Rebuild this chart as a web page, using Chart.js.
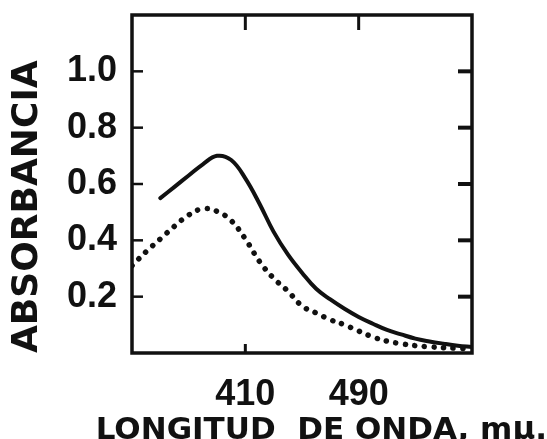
<!DOCTYPE html>
<html>
<head>
<meta charset="utf-8">
<script src="https://cdn.jsdelivr.net/npm/chart.js@4"></script>
<style>
    body { margin: 0; background: #fff; }
    #box { width: 547px; height: 439px; }
</style>
</head>
<body>
<div id="box"><canvas id="absChart" width="547" height="439"></canvas></div>
<script>
// wavelengths (m\u03bc) and absorbance
const solidWl = [350, 360, 370, 380, 390, 400, 410, 420, 430, 440, 450, 460, 470, 480, 490, 500, 510, 520, 530, 540, 550, 560, 570];
const solidAbs = [0.55, 0.59, 0.63, 0.67, 0.70, 0.685, 0.62, 0.53, 0.43, 0.35, 0.285, 0.228, 0.19, 0.157, 0.128, 0.104, 0.082, 0.066, 0.051, 0.041, 0.033, 0.026, 0.021];

const dottedWl = [330, 340, 350, 360, 370, 380, 390, 400, 410, 420, 430, 440, 450, 460, 470, 480, 490, 500, 510, 520, 530, 540, 550, 560, 570];
const dottedAbs = [0.31, 0.36, 0.405, 0.45, 0.49, 0.512, 0.503, 0.47, 0.405, 0.325, 0.265, 0.22, 0.167, 0.142, 0.118, 0.10, 0.078, 0.057, 0.042, 0.033, 0.026, 0.022, 0.019, 0.017, 0.015];

const xTicks = [410, 490];
const yTicks = [0.2, 0.4, 0.6, 0.8, 1.0];

const ink = '#111';

function toPoints(xs, ys) {
    return xs.map((x, i) => ({ x: x, y: ys[i] }));
}

// frame + inward tick marks, placed through the scales
const framePlugin = {
    id: 'frame',
    afterDraw: function (chart) {
        const ctx = chart.ctx;
        const a = chart.chartArea;
        const xs = chart.scales.x, ys = chart.scales.y;
        ctx.save();
        ctx.strokeStyle = ink;
        ctx.lineCap = 'butt';

        ctx.lineWidth = 2.5;
        yTicks.forEach(v => {
            const py = ys.getPixelForValue(v);
            ctx.beginPath();
            ctx.moveTo(a.left, py);
            ctx.lineTo(a.left + 11, py);
            ctx.stroke();
        });
        ctx.lineWidth = 4;
        yTicks.forEach(v => {
            const py = ys.getPixelForValue(v);
            ctx.beginPath();
            ctx.moveTo(a.right - 14, py);
            ctx.lineTo(a.right, py);
            ctx.stroke();
        });
        ctx.lineWidth = 3;
        xTicks.forEach(v => {
            const px = xs.getPixelForValue(v);
            ctx.beginPath();
            ctx.moveTo(px, a.top);
            ctx.lineTo(px, a.top + 15);
            ctx.stroke();
        });
        const pb = xs.getPixelForValue(xTicks[0]);
        ctx.beginPath();
        ctx.moveTo(pb, a.bottom);
        ctx.lineTo(pb, a.bottom - 9);
        ctx.stroke();

        ctx.lineWidth = 3.5;
        ctx.strokeRect(a.left, a.top, a.right - a.left, a.bottom - a.top);
        ctx.restore();
    }
};

function noPad(scale) {
    scale.paddingTop = 0;
    scale.paddingBottom = 0;
    scale.paddingLeft = 0;
    scale.paddingRight = 0;
}

new Chart(document.getElementById('absChart'), {
    type: 'line',
    data: {
        datasets: [{
            label: 'solid',
            data: toPoints(solidWl, solidAbs),
            borderColor: ink,
            borderWidth: 4,
            pointRadius: 0,
            tension: 0.4,
            borderCapStyle: 'round'
        }, {
            label: 'dotted',
            data: toPoints(dottedWl, dottedAbs),
            borderColor: ink,
            borderWidth: 5.5,
            borderDash: [0.1, 9.5],
            borderCapStyle: 'round',
            pointRadius: 0,
            tension: 0.4
        }]
    },
    options: {
        responsive: false,
        animation: false,
        layout: { padding: { top: 15, right: 0, left: 0, bottom: 0 } },
        plugins: {
            legend: { display: false },
            tooltip: { enabled: false },
            title: {
                display: true,
                position: 'bottom',
                align: 'end',
                text: 'LONGITUD  DE ONDA, m\u03bc.',
                color: ink,
                padding: 0,
                font: { family: 'DejaVu Sans', size: 31, weight: 'bold', lineHeight: 0.55 }
            }
        },
        scales: {
            x: {
                type: 'linear',
                min: 330,
                max: 570,
                afterBuildTicks: function (scale) {
                    scale.ticks = xTicks.map(v => ({ value: v }));
                },
                afterFit: function (scale) { scale.height = 86 - 31 * 0.55; noPad(scale); },
                grid: { display: false },
                border: { display: false },
                ticks: {
                    color: ink,
                    padding: 12,
                    maxRotation: 0,
                    font: { family: 'Liberation Sans', size: 36, weight: 'bold', lineHeight: 1.2 }
                }
            },
            y: {
                min: 0,
                max: 1.2,
                afterBuildTicks: function (scale) {
                    scale.ticks = yTicks.map(v => ({ value: v }));
                },
                afterFit: function (scale) { scale.width = 132; noPad(scale); },
                grid: { display: false },
                border: { display: false },
                ticks: {
                    color: ink,
                    padding: 7,
                    font: { family: 'Liberation Sans', size: 36, weight: 'bold' },
                    callback: v => v.toFixed(1)
                },
                title: {
                    display: true,
                    text: 'ABSORBANCIA',
                    align: 'start',
                    color: ink,
                    padding: { top: 6, bottom: 0 },
                    font: { family: 'DejaVu Sans', size: 36, weight: 'bold', lineHeight: 1.2 }
                }
            },
            // empty right-hand axis that only keeps the margin beside the frame
            yRight: {
                position: 'right',
                min: 0,
                max: 1.2,
                grid: { display: false },
                border: { display: false },
                ticks: { display: false },
                afterFit: function (scale) { scale.width = 75; noPad(scale); }
            }
        }
    },
    plugins: [framePlugin]
});
</script>
</body>
</html>
